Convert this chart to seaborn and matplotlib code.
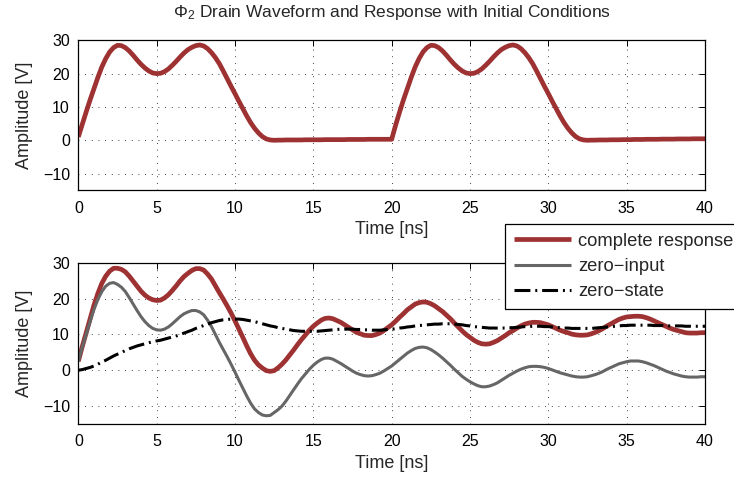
import numpy as np
import matplotlib
matplotlib.use("Agg")
import matplotlib.pyplot as plt
import seaborn as sns

# ---------------- data ----------------
time_ns = np.arange(0, 40.001, 0.25)

drain_waveform = [
    # 0 .. 12.5
    1.0, 4.8, 8.5, 12.1, 15.5, 18.9, 22.0, 24.5, 26.5, 27.8, 28.5, 28.4, 27.8,
    26.8, 25.5, 24.1, 22.8, 21.7, 20.8, 20.2, 20.0, 20.1, 20.6, 21.4, 22.5, 23.7,
    25.0, 26.2, 27.2, 27.9, 28.4, 28.6, 28.3, 27.5, 26.3, 24.8, 23.0, 20.8, 18.5,
    16.2, 14.0, 11.7, 9.5, 7.3, 5.3, 3.6, 2.2, 1.1, 0.4, 0.1, 0.0,
    # 12.75 .. 19.75
    0.05, 0.05, 0.1, 0.1, 0.1, 0.1, 0.1, 0.15, 0.15, 0.15, 0.15, 0.15, 0.2, 0.2,
    0.2, 0.2, 0.2, 0.2, 0.25, 0.25, 0.25, 0.25, 0.25, 0.3, 0.3, 0.3, 0.3, 0.3, 0.3,
    # 20 .. 32.5
    0.3, 4.5, 8.4, 12.1, 15.5, 18.9, 22.0, 24.5, 26.5, 27.8, 28.5, 28.4, 27.8,
    26.8, 25.5, 24.1, 22.8, 21.7, 20.8, 20.2, 20.0, 20.1, 20.6, 21.4, 22.5, 23.7,
    25.0, 26.2, 27.2, 27.9, 28.4, 28.6, 28.3, 27.5, 26.3, 24.8, 23.0, 20.8, 18.5,
    16.2, 14.0, 11.7, 9.5, 7.3, 5.3, 3.6, 2.2, 1.1, 0.4, 0.1, 0.0,
    # 32.75 .. 40
    0.05, 0.05, 0.1, 0.1, 0.1, 0.15, 0.15, 0.15, 0.2, 0.2, 0.2, 0.25, 0.25, 0.25,
    0.3, 0.3, 0.3, 0.3, 0.35, 0.35, 0.35, 0.35, 0.4, 0.4, 0.4, 0.4, 0.45, 0.45,
    0.45, 0.45,
]

complete_response = [
    2.5, 6.6, 10.5, 14.4, 18.2, 21.5, 24.3, 26.3, 27.7, 28.5, 28.5, 28.2, 27.5,
    26.3, 24.9, 23.5, 22.1, 21.0, 20.2, 19.7, 19.5, 19.6, 20.2, 21.1, 22.3, 23.6,
    25.0, 26.2, 27.1, 27.9, 28.4, 28.4, 28.0, 26.9, 25.5, 23.6, 21.7, 19.9, 18.0,
    16.0, 13.8, 11.5, 9.2, 6.8, 4.6, 2.8, 1.5, 0.6, -0.1, -0.3, -0.1, 0.7,
    1.7, 2.9, 4.3, 5.7, 7.2, 8.6, 9.9, 11.2, 12.3, 13.2, 14.0, 14.5, 14.6, 14.4,
    13.9, 13.4, 12.7, 12.0, 11.3, 10.6, 10.2, 9.8, 9.7, 9.7, 10.0, 10.4, 11.1,
    11.9, 12.7, 13.7, 14.8, 15.8, 16.9, 17.7, 18.5, 18.9, 19.1, 19.0, 18.6, 18.0,
    17.2, 16.4, 15.4, 14.4, 13.2, 12.1, 11.0, 10.0, 9.2, 8.4, 7.8, 7.4, 7.3, 7.4,
    7.8, 8.3, 9.0, 9.7, 10.5, 11.1, 11.8, 12.4, 12.9, 13.2, 13.4, 13.4, 13.3,
    13.0, 12.7, 12.2, 11.7, 11.2, 10.8, 10.5, 10.1, 9.9, 9.8, 9.8, 9.9, 10.2,
    10.6, 11.1, 11.7, 12.4, 13.0, 13.6, 14.2, 14.6, 14.9, 15.0, 15.1, 15.1, 15.0,
    14.7, 14.3, 13.8, 13.3, 12.8, 12.3, 11.8, 11.4, 11.1, 10.8, 10.5, 10.4, 10.4,
    10.4, 10.5, 10.5,
]

zero_input = [
    2.5, 6.4, 10.0, 13.6, 17.0, 19.8, 22.0, 23.5, 24.3, 24.5, 24.0, 23.2, 22.0,
    20.3, 18.5, 16.7, 15.0, 13.6, 12.5, 11.7, 11.3, 11.2, 11.5, 12.1, 13.0, 14.0,
    15.0, 15.8, 16.3, 16.7, 16.7, 16.3, 15.5, 14.0, 12.2, 10.0, 7.8, 5.8, 3.8,
    1.7, -0.5, -2.8, -5.0, -7.2, -9.2, -10.8, -11.8, -12.5, -12.7, -12.6, -11.8,
    -11.0, -10.0, -8.6, -7.0, -5.4, -3.8, -2.3, -1.0, 0.3, 1.4, 2.3, 3.0, 3.4,
    3.4, 3.1, 2.5, 1.9, 1.2, 0.5, -0.2, -0.8, -1.2, -1.5, -1.6, -1.5, -1.2, -0.8,
    -0.2, 0.5, 1.2, 2.1, 3.0, 3.9, 4.8, 5.5, 6.1, 6.4, 6.5, 6.3, 5.8, 5.1, 4.3,
    3.4, 2.4, 1.4, 0.3, -0.7, -1.7, -2.5, -3.2, -3.8, -4.3, -4.6, -4.6, -4.4,
    -4.0, -3.5, -2.8, -2.1, -1.4, -0.8, -0.2, 0.3, 0.7, 1.0, 1.1, 1.1, 1.0, 0.8,
    0.5, 0.1, -0.3, -0.7, -1.0, -1.3, -1.6, -1.8, -1.9, -1.9, -1.8, -1.5, -1.2,
    -0.8, -0.3, 0.3, 0.8, 1.3, 1.8, 2.1, 2.4, 2.6, 2.6, 2.6, 2.4, 2.1, 1.7, 1.3,
    0.8, 0.3, -0.2, -0.6, -1.0, -1.3, -1.6, -1.8, -1.9, -1.9, -1.9, -1.8, -1.8,
]

zero_state = [
    0.0, 0.2, 0.5, 0.8, 1.2, 1.7, 2.3, 2.8, 3.4, 4.0, 4.5, 5.0, 5.5, 6.0, 6.4,
    6.8, 7.1, 7.4, 7.7, 8.0, 8.2, 8.4, 8.7, 9.0, 9.3, 9.6, 10.0, 10.4, 10.8, 11.2,
    11.7, 12.1, 12.5, 12.9, 13.3, 13.6, 13.9, 14.1, 14.2, 14.3, 14.3, 14.3, 14.2,
    14.0, 13.8, 13.6, 13.3, 13.0, 12.7, 12.4, 12.2, 11.9, 11.7, 11.5, 11.3, 11.1,
    11.0, 10.9, 10.9, 10.9, 10.9, 10.9, 11.0, 11.1, 11.2, 11.3, 11.4, 11.5, 11.5,
    11.5, 11.5, 11.4, 11.4, 11.3, 11.3, 11.2, 11.2, 11.2, 11.3, 11.4, 11.5, 11.6,
    11.8, 11.9, 12.1, 12.2, 12.4, 12.5, 12.6, 12.7, 12.8, 12.9, 12.9, 13.0, 13.0,
    13.0, 12.9, 12.8, 12.7, 12.5, 12.4, 12.2, 12.1, 12.0, 11.9, 11.8, 11.8, 11.8,
    11.8, 11.8, 11.9, 11.9, 12.0, 12.1, 12.2, 12.2, 12.3, 12.3, 12.3, 12.2, 12.2,
    12.1, 12.0, 11.9, 11.8, 11.8, 11.7, 11.7, 11.7, 11.7, 11.7, 11.7, 11.8, 11.9,
    12.0, 12.1, 12.2, 12.3, 12.4, 12.5, 12.5, 12.6, 12.6, 12.6, 12.6, 12.6, 12.6,
    12.5, 12.5, 12.5, 12.5, 12.4, 12.4, 12.4, 12.4, 12.3, 12.3, 12.3, 12.3, 12.3,
    12.3,
]

x_ticks = [0, 5, 10, 15, 20, 25, 30, 35, 40]
y_ticks = [-10, 0, 10, 20, 30]
series_labels = ["complete response", "zero\u2212input", "zero\u2212state"]
title_text = r"$\Phi_2$ Drain Waveform and Response with Initial Conditions"
x_label = "Time [ns]"
y_label = "Amplitude [V]"

# ---------------- style ----------------
sns.set_style("white")
plt.rcParams["font.family"] = ["Liberation Sans", "DejaVu Sans"]
plt.rcParams["mathtext.fontset"] = "custom"
plt.rcParams["mathtext.rm"] = "Liberation Sans"
plt.rcParams["mathtext.it"] = "Liberation Sans:italic"
plt.rcParams["axes.unicode_minus"] = True

RED = "#9e3232"
GRAY = "#666666"
TICK_FS = 11.5
LABEL_FS = 13
TITLE_FS = 12.5
LEGEND_FS = 13.2

fig = plt.figure(figsize=(7.34, 4.78), dpi=100)
ax1 = fig.add_axes([0.1067, 0.6019, 0.8538, 0.3138])
ax2 = fig.add_axes([0.1067, 0.1130, 0.8538, 0.3370])

dashdot = (0, (5.2, 1.6, 0.65, 1.6))

sns.lineplot(x=time_ns, y=drain_waveform, ax=ax1, color=RED, linewidth=3.4,
             solid_joinstyle="round", solid_capstyle="butt")

sns.lineplot(x=time_ns, y=complete_response, ax=ax2, color=RED, linewidth=3.4,
             label=series_labels[0], solid_joinstyle="round", solid_capstyle="butt")
sns.lineplot(x=time_ns, y=zero_input, ax=ax2, color=GRAY, linewidth=2.2,
             label=series_labels[1], solid_joinstyle="round", solid_capstyle="butt")
sns.lineplot(x=time_ns, y=zero_state, ax=ax2, color="black", linewidth=2.2,
             linestyle=dashdot, label=series_labels[2])

for ax in (ax1, ax2):
    ax.set_xlim(0, 40)
    ax.set_ylim(-15, 30)
    ax.set_xticks(x_ticks)
    ax.set_yticks(y_ticks)
    ax.tick_params(direction="in", length=4, width=0.7, top=True, right=True,
                   labelsize=TICK_FS, colors="black")
    ax.tick_params(axis="x", pad=7.5)
    ax.tick_params(axis="y", pad=6)
    ax.grid(True, color="black", linewidth=0.6, linestyle=(0, (1, 7)))
    ax.set_axisbelow(True)
    for s in ax.spines.values():
        s.set_visible(True)
        s.set_color("black")
        s.set_linewidth(0.9)
    ax.set_xlabel(x_label, fontsize=LABEL_FS, labelpad=4)
    ax.set_ylabel(y_label, fontsize=LABEL_FS, labelpad=7)

ax1.set_title(title_text, fontsize=TITLE_FS, pad=17)

leg = ax2.legend(loc="upper left", bbox_to_anchor=(505 / 734, 1 - 224 / 478),
                 bbox_transform=fig.transFigure, fontsize=LEGEND_FS,
                 frameon=True, fancybox=False, framealpha=1, edgecolor="black",
                 handlelength=3.1, handletextpad=0.4, labelspacing=0.45,
                 borderpad=0.48, borderaxespad=0)
leg.get_frame().set_linewidth(0.9)
leg.set_zorder(10)

fig.savefig("out.png", dpi=100)
